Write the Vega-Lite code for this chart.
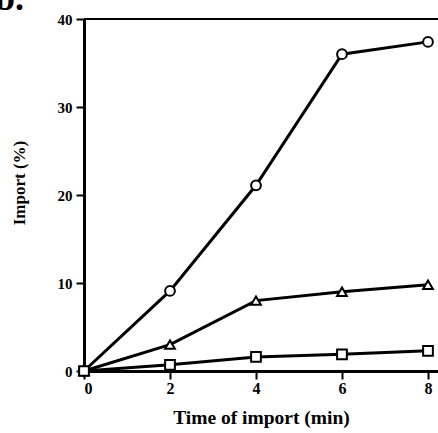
{
  "$schema": "https://vega.github.io/schema/vega-lite/v6.json",
  "autosize": "none",
  "width": 354,
  "height": 352,
  "padding": {"left": 84, "top": 19, "right": 0, "bottom": 62},
  "background": "white",
  "config": {
    "view": {"stroke": null},
    "font": "Liberation Serif",
    "axis": {
      "grid": false,
      "domainColor": "black",
      "domainWidth": 3,
      "tickColor": "black",
      "tickWidth": 2,
      "tickSize": 8,
      "labelFont": "Liberation Serif",
      "labelFontWeight": "bold",
      "labelColor": "black",
      "titleFont": "Liberation Serif",
      "titleFontWeight": "bold",
      "titleColor": "black"
    }
  },
  "title": {"text": "b.", "anchor": "start", "frame": "group", "baseline": "alphabetic", "fontSize": 36, "font": "Liberation Serif", "fontWeight": "bold", "dx": -89, "dy": 34, "color": "black", "offset": 0},
  "data": {
    "values": [
      {"t": 0, "v": 0, "s": "circle"},
      {"t": 2, "v": 9.1, "s": "circle"},
      {"t": 4, "v": 21.1, "s": "circle"},
      {"t": 6, "v": 36.0, "s": "circle"},
      {"t": 8, "v": 37.4, "s": "circle"},
      {"t": 0, "v": 0, "s": "triangle"},
      {"t": 2, "v": 3.0, "s": "triangle"},
      {"t": 4, "v": 8.0, "s": "triangle"},
      {"t": 6, "v": 9.0, "s": "triangle"},
      {"t": 8, "v": 9.8, "s": "triangle"},
      {"t": 0, "v": 0, "s": "square"},
      {"t": 2, "v": 0.7, "s": "square"},
      {"t": 4, "v": 1.6, "s": "square"},
      {"t": 6, "v": 1.9, "s": "square"},
      {"t": 8, "v": 2.3, "s": "square"}
    ]
  },
  "encoding": {
    "x": {"field": "t", "type": "quantitative", "scale": {"domain": [0, 8.233], "nice": false},
      "axis": {"values": [0, 2, 4, 6, 8], "title": "Time of import (min)", "labelFontSize": 16, "titleFontSize": 19.5, "labelPadding": 1, "titlePadding": 12}},
    "y": {"field": "v", "type": "quantitative", "scale": {"domain": [0, 40], "nice": false},
      "axis": {"values": [0, 10, 20, 30, 40], "title": "Import (%)", "labelFontSize": 15, "titleFontSize": 17, "labelPadding": 4, "titleX": -60, "titleY": 163.5, "titleBaseline": "alphabetic", "titleAngle": 270, "titleAlign": "center"}}
  },
  "layer": [
    {
      "mark": {"type": "rule", "color": "black", "strokeWidth": 2},
      "encoding": {"y": {"datum": 40}, "x": {"datum": 0}, "x2": {"datum": 8.233}}
    },
    {
      "mark": {"type": "line", "color": "black", "strokeWidth": 3},
      "encoding": {"detail": {"field": "s"}}
    },
    {
      "mark": {"type": "point", "filled": false, "fill": "white", "fillOpacity": 1, "stroke": "black", "strokeWidth": 2, "opacity": 1},
      "encoding": {
        "shape": {"field": "s", "type": "nominal", "scale": {"domain": ["circle", "triangle", "square"], "range": ["circle", "triangle-up", "square"]}, "legend": null},
        "size": {"value": 95}
      }
    }
  ]
}
